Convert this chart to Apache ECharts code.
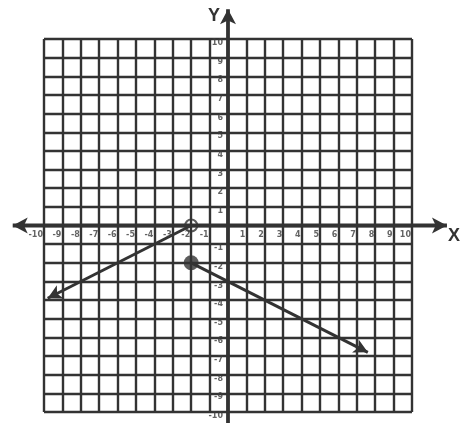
<!DOCTYPE html>
<html>
<head>
<meta charset="utf-8">
<script src="https://cdn.jsdelivr.net/npm/echarts@6/dist/echarts.min.js"></script>
<style>
  html, body { margin: 0; padding: 0; background: #fff; }
  #chart { width: 463px; height: 423px; }
</style>
</head>
<body>
<div id="chart"></div>
<script>
// axis range and tick step
var axisMin = -10;
var axisMax = 10;
var tickStep = 1;

// tick labels written along the axes (0 is left out)
var xTickLabels = [-10, -9, -8, -7, -6, -5, -4, -3, -2, -1, 1, 2, 3, 4, 5, 6, 7, 8, 9, 10];
var yTickLabels = [10, 9, 8, 7, 6, 5, 4, 3, 2, 1, -1, -2, -3, -4, -5, -6, -7, -8, -9, -10];

// the two coordinate axes, drawn past the grid: [x1, y1, x2, y2]
var xAxisLine = [-11.7, 0, 11.9, 0];
var yAxisLine = [0, -10.7, 0, 11.6];

// piecewise rays: start point, arrow end
var leftRay = [[-2, 0], [-9.8, -3.9]];
var rightRay = [[-2, -2], [7.6, -6.8]];

// endpoints
var openPoints = [[-2, 0]];
var closedPoints = [[-2, -2]];

var ink = '#333';

var chart = echarts.init(document.getElementById('chart'));

function seg(pair) {
  return [
    { coord: pair[0], symbol: 'none' },
    { coord: pair[1], symbol: 'arrow' }
  ];
}

var tickFont = { fontSize: 8, fontWeight: 'bold', color: '#3c3c3c', fontFamily: 'DejaVu Sans' };

var option = {
  backgroundColor: '#fff',
  animation: false,
  grid: { left: 44, right: 46, top: 39, bottom: 11 },
  xAxis: {
    type: 'value',
    min: axisMin, max: axisMax, interval: tickStep,
    name: 'X',
    nameLocation: 'end',
    nameGap: 36,
    nameTextStyle: { fontSize: 18, fontWeight: 'bold', color: ink, fontFamily: 'Liberation Sans', verticalAlign: 'top', padding: [2, 0, 0, 0] },
    axisLine: { show: false, onZero: true },
    axisTick: { show: false },
    axisLabel: { show: false },
    splitLine: { show: true, lineStyle: { color: ink, width: 2.4 } }
  },
  yAxis: {
    type: 'value',
    min: axisMin, max: axisMax, interval: tickStep,
    name: 'Y',
    nameLocation: 'end',
    nameGap: 14,
    nameTextStyle: { fontSize: 18, fontWeight: 'bold', color: ink, fontFamily: 'Liberation Sans', align: 'right', padding: [0, 8, 0, 0] },
    axisLine: { show: false, onZero: true },
    axisTick: { show: false },
    axisLabel: { show: false },
    splitLine: { show: true, lineStyle: { color: ink, width: 2.4 } }
  },
  series: [
    // axis lines
    {
      type: 'custom',
      silent: true,
      z: 4,
      data: [xAxisLine, yAxisLine],
      renderItem: function (params, api) {
        var a = api.coord([api.value(0), api.value(1)]);
        var b = api.coord([api.value(2), api.value(3)]);
        return {
          type: 'line',
          shape: { x1: a[0], y1: a[1], x2: b[0], y2: b[1] },
          style: { stroke: ink, lineWidth: 3.8 }
        };
      }
    },
    // arrow heads on the axes
    {
      type: 'line',
      silent: true,
      clip: false,
      z: 4,
      lineStyle: { opacity: 0 },
      itemStyle: { color: ink },
      symbolSize: [12, 15],
      data: [
        { value: [xAxisLine[0], xAxisLine[1]], symbol: 'arrow', symbolRotate: 90 },
        { value: [xAxisLine[2], xAxisLine[3]], symbol: 'arrow', symbolRotate: -90 }
      ]
    },
    {
      type: 'line',
      silent: true,
      clip: false,
      z: 4,
      lineStyle: { opacity: 0 },
      itemStyle: { color: ink },
      symbolSize: [12, 15],
      data: [
        { value: [yAxisLine[2], yAxisLine[3]], symbol: 'arrow', symbolRotate: 0 }
      ]
    },
    // rays
    {
      type: 'line',
      data: [],
      z: 3,
      markLine: {
        silent: true,
        animation: false,
        symbolSize: [11, 14],
        label: { show: false },
        lineStyle: { color: ink, type: 'solid', width: 3 },
        data: [seg(leftRay), seg(rightRay)]
      }
    },
    // tick labels
    {
      type: 'scatter',
      silent: true,
      symbolSize: 0,
      z: 6,
      data: xTickLabels.map(function (v) { return [v, 0]; }),
      label: Object.assign({ show: true, position: 'bottom', distance: 5, align: 'right', offset: [-1, 0], formatter: function (p) { return p.value[0]; } }, tickFont)
    },
    {
      type: 'scatter',
      silent: true,
      symbolSize: 0,
      z: 6,
      data: yTickLabels.map(function (v) { return [0, v]; }),
      label: Object.assign({ show: true, position: 'left', distance: 5, offset: [0, 4], formatter: function (p) { return p.value[1]; } }, tickFont)
    },
    // endpoints
    {
      type: 'scatter',
      data: openPoints,
      z: 5,
      symbol: 'circle',
      symbolSize: 12,
      itemStyle: { color: 'rgba(255,255,255,0)', borderColor: ink, borderWidth: 2.2 }
    },
    {
      type: 'scatter',
      data: closedPoints,
      z: 5,
      symbol: 'circle',
      symbolSize: 15,
      itemStyle: { color: ink }
    }
  ]
};

chart.setOption(option);
</script>
</body>
</html>
